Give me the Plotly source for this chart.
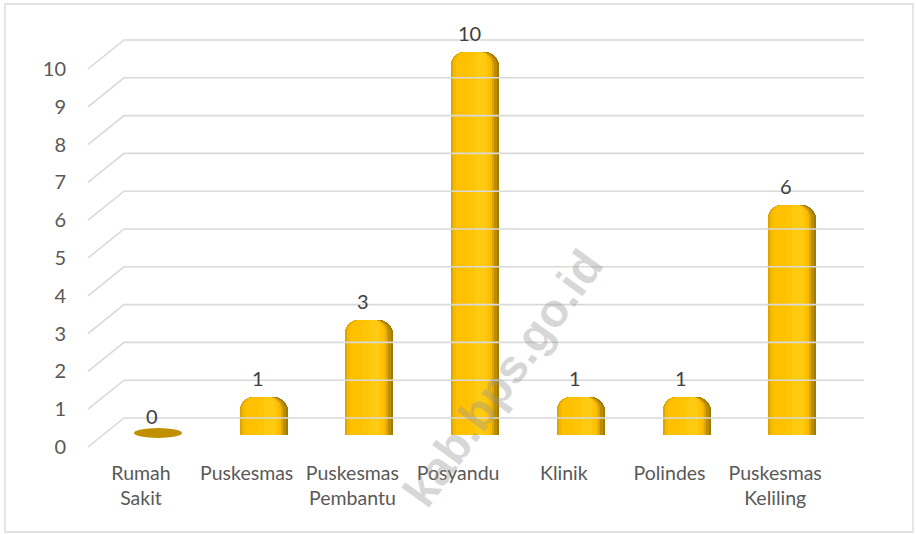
import plotly.graph_objects as go

# ---- data ----
categories = ["Rumah<br>Sakit", "Puskesmas", "Puskesmas<br>Pembantu", "Posyandu",
              "Klinik", "Polindes", "Puskesmas<br>Keliling"]
values = [0, 1, 3, 10, 1, 1, 6]
tick_values = [0, 1, 2, 3, 4, 5, 6, 7, 8, 9, 10]

W, H = 916, 534
idx = list(range(len(categories)))

# pixel geometry helpers (layout only)
STEP = 105.7                 # px per category
X0 = -141 / STEP             # label centre of first category at 141px
XR = [X0, X0 + W / STEP]
BAR_SHIFT = 17 / STEP        # bars sit 17px right of their labels (3D depth)
PXU = 1 / STEP               # one px in x units

# bar y axis: 0 at 435px, 38.3 px per unit
ys = H / 38.3
y0 = -(1 - 435 / H) * ys
YR = [y0, y0 + ys]
# tick/grid axis: 0 at 447px (front end of floor line), 37.8 px per unit
gs = H / 37.8
g0 = -(1 - 447 / H) * gs
GR = [g0, g0 + gs]
DEPTH = 29 / 37.8            # rise of the side-wall gridline

fig = go.Figure()

# gridlines (side wall diagonal + back wall) on pixel-x / tick-y axes
gx, gy = [], []
for v in tick_values:
    gx += [88, 124, 864, None]
    gy += [v, v + DEPTH, v + DEPTH, None]
fig.add_trace(go.Scatter(x=gx, y=gy, mode="lines", xaxis="x3", yaxis="y3",
                         line=dict(color="#D9D9D9", width=1.6),
                         hoverinfo="skip", showlegend=False))

# cylinder-like bars: layered bars of different widths (simulated shading)
layers = [
    # (left px, right px within a 48px bar, colour, corner radius)
    (0, 48, "#A27A00", 14),
    (0, 46, "#BC8D00", 14),
    (0, 43, "#DCA500", 13),
    (2, 41, "#F6B900", 12),
    (5, 39, "#FFC000", 11),
    (17, 37, "#FFC405", 9),
    (24, 35, "#FFCA12", 5),
]
for lpx, rpx, col, cr in layers:
    fig.add_trace(go.Bar(
        x=idx, y=values,
        width=[(rpx - lpx) * PXU] * len(idx),
        offset=[BAR_SHIFT + (lpx - 24) * PXU] * len(idx),
        marker=dict(color=col, line=dict(width=0), cornerradius=cr),
        hoverinfo="skip", showlegend=False))

# flat disc for zero-valued categories
for i, v in zip(idx, values):
    if v == 0:
        fig.add_shape(type="circle", xref="x", yref="y",
                      x0=i + BAR_SHIFT - 24 * PXU, x1=i + BAR_SHIFT + 24 * PXU,
                      y0=v - 3 / 38.3, y1=v + 7 / 38.3,
                      fillcolor="#C09000", line=dict(width=0), layer="above")

# data labels
for i, v in zip(idx, values):
    fig.add_annotation(x=i, y=v, xref="x", yref="y", text=str(v),
                       showarrow=False, xshift=11, yshift=19,
                       font=dict(size=20, color="#404040"))

# watermark
fig.add_annotation(x=502 / W, y=1 - 378 / H, xref="paper", yref="paper",
                   xanchor="center", yanchor="middle",
                   text="kab.bps.go.id", showarrow=False, textangle=-54,
                   font=dict(family="Liberation Sans", size=47, weight="bold",
                             color="rgba(150,150,150,0.38)"))

# chart border
fig.add_shape(type="rect", xref="paper", yref="paper",
              x0=5 / W, x1=913 / W, y0=1 - 532 / H, y1=1 - 4 / H,
              line=dict(color="#D9D9D9", width=1.3))

fig.update_layout(
    width=W, height=H,
    margin=dict(l=0, r=0, t=0, b=0),
    paper_bgcolor="white", plot_bgcolor="rgba(0,0,0,0)",
    barmode="overlay", bargap=0,
    font=dict(family="Lato", size=20, color="#595959"),
    xaxis=dict(range=XR, domain=[0, 1], tickmode="array", tickvals=idx,
               ticktext=categories, showgrid=False, zeroline=False,
               showline=False, ticks="", anchor="free", position=1 - 459 / H,
               tickfont=dict(size=19.5, color="#595959"), fixedrange=True),
    yaxis=dict(range=YR, domain=[0, 1], visible=False, fixedrange=True),
    xaxis3=dict(range=[0, W], domain=[0, 1], overlaying="x", visible=False),
    yaxis3=dict(range=GR, domain=[0, 1], overlaying="y", anchor="free",
                position=66 / W, tickmode="array", tickvals=tick_values,
                showgrid=False, zeroline=False, showline=False, ticks="",
                tickfont=dict(size=20, color="#595959")),
)

fig.write_html("out.html", config={"displayModeBar": False},
               post_script="document.body.style.margin='0px';document.body.style.overflow='hidden';")
